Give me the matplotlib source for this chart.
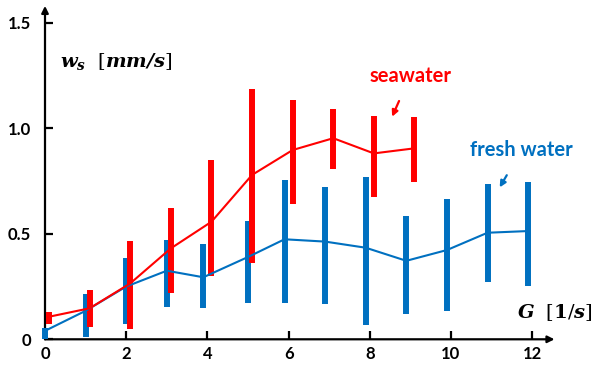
import matplotlib
matplotlib.use('Agg')
import matplotlib.pyplot as plt

# fresh water: G [1/s], mean settling velocity and range [mm/s]
fresh_G = [0, 1, 2, 3, 3.9, 5, 5.9, 6.9, 7.9, 8.9, 9.9, 10.9, 11.9]
fresh_mean = [0.04, 0.135, 0.25, 0.325, 0.294, 0.39, 0.474, 0.463, 0.434, 0.372, 0.423, 0.505, 0.513]
fresh_lo = [0.0, 0.012, 0.073, 0.155, 0.147, 0.17, 0.173, 0.167, 0.068, 0.118, 0.136, 0.272, 0.253]
fresh_hi = [0.052, 0.215, 0.384, 0.47, 0.45, 0.562, 0.755, 0.723, 0.77, 0.584, 0.665, 0.736, 0.747]

# seawater
sea_G = [0.1, 1.1, 2.1, 3.1, 4.1, 5.1, 6.1, 7.1, 8.1, 9.1]
sea_mean = [0.107, 0.147, 0.265, 0.431, 0.557, 0.779, 0.897, 0.953, 0.881, 0.905]
sea_lo = [0.073, 0.057, 0.049, 0.218, 0.3, 0.36, 0.641, 0.807, 0.673, 0.747]
sea_hi = [0.128, 0.234, 0.466, 0.62, 0.85, 1.186, 1.134, 1.091, 1.058, 1.052]

xticks = [0, 2, 4, 6, 8, 10, 12]
yticks = [0, 0.5, 1.0, 1.5]
ytick_labels = ['0', '0.5', '1.0', '1.5']

blue = '#0070C0'
red = '#FF0000'
font = 'Lato'

fig = plt.figure(figsize=(5.98, 3.77), dpi=100)
ax = fig.add_axes([45/598, 37.7/377, 509.5/598, 333.4/377])
ax.set_xlim(0, 12.55)
ax.set_ylim(0, 1.58)

# range bars
ax.vlines(fresh_G, fresh_lo, fresh_hi, color=blue, linewidth=4.3, clip_on=False, zorder=2)
ax.vlines(sea_G, sea_lo, sea_hi, color=red, linewidth=4.3, clip_on=False, zorder=2)
# mean lines
ax.plot(fresh_G, fresh_mean, color=blue, linewidth=1.5, clip_on=False, zorder=3)
ax.plot(sea_G, sea_mean, color=red, linewidth=1.5, clip_on=False, zorder=3)

# axes with arrows
for s in ax.spines.values():
    s.set_visible(False)
ax.annotate('', xy=(1.0, 0), xytext=(0, 0), xycoords='axes fraction',
            arrowprops=dict(arrowstyle='-|>', color='black', lw=1.6, mutation_scale=10,
                            shrinkA=0, shrinkB=0), zorder=1)
ax.annotate('', xy=(0, 1.0), xytext=(0, 0), xycoords='axes fraction',
            arrowprops=dict(arrowstyle='-|>', color='black', lw=1.6, mutation_scale=10,
                            shrinkA=0, shrinkB=0), zorder=1)

ax.set_xticks(xticks)
ax.set_xticklabels([str(t) for t in xticks], fontweight='bold', fontsize=12, family=font)
ax.set_yticks(yticks)
ax.set_yticklabels(ytick_labels, fontweight='bold', fontsize=12, family=font)
ax.tick_params(axis='both', direction='in', length=6, width=1.6, color='black')
ax.tick_params(axis='x', pad=5)
ax.tick_params(axis='y', pad=10)

# axis labels
plt.rcParams['mathtext.fontset'] = 'dejavuserif'
fig.text(60/598, 1 - 62/377, r'$\mathbfit{w_s}\ \ [\mathbfit{mm/s}]$', fontsize=14,
         ha='left', va='center')
fig.text(593/598, 1 - 313/377, r'$\mathbfit{G}\ \ [\mathbf{1}/\mathbfit{s}]$', fontsize=14,
         ha='right', va='center')

# annotations
ax.annotate('seawater', xy=(8.55, 1.055), xytext=(9.0, 1.25), color=red,
            fontsize=14.5, fontweight='bold', family=font, ha='center', va='center',
            arrowprops=dict(arrowstyle='-|>', color=red, lw=1.6, mutation_scale=9,
                            shrinkA=10, shrinkB=0))
ax.annotate('fresh water', xy=(11.2, 0.72), xytext=(11.73, 0.895), color=blue,
            fontsize=14.5, fontweight='bold', family=font, ha='center', va='center',
            arrowprops=dict(arrowstyle='-|>', color=blue, lw=1.6, mutation_scale=9,
                            shrinkA=10, shrinkB=0))

fig.savefig('out.png', dpi=100)
